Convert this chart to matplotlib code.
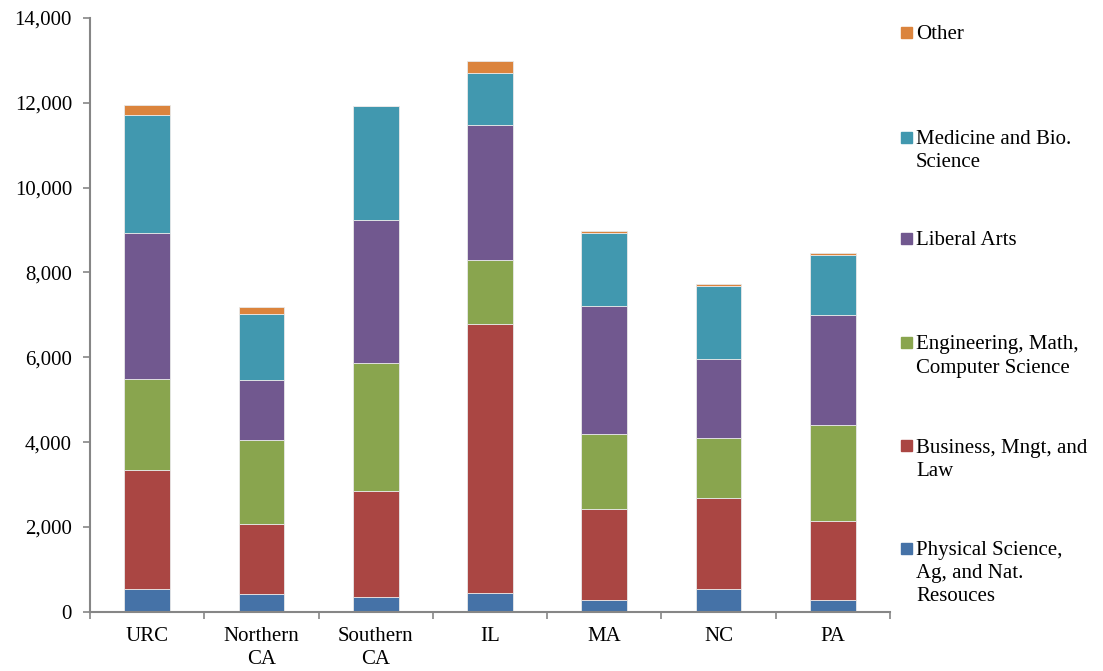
import matplotlib
matplotlib.use("Agg")
import matplotlib.pyplot as plt
import numpy as np
from matplotlib.patches import Rectangle

categories = ["URC", "Northern\nCA", "Southern\nCA", "IL", "MA", "NC", "PA"]
series_names = ["Physical Science,\nAg, and Nat.\nResouces",
                "Business, Mngt, and\nLaw",
                "Engineering, Math,\nComputer Science",
                "Liberal Arts",
                "Medicine and Bio.\nScience",
                "Other"]
physical = [530, 410, 340, 440, 280, 530, 280]
business = [2820, 1660, 2500, 6350, 2150, 2140, 1870]
engineering = [2130, 1980, 3030, 1500, 1760, 1420, 2250]
liberal = [3450, 1420, 3370, 3180, 3030, 1870, 2590]
medicine = [2780, 1560, 2680, 1240, 1700, 1730, 1410]
other = [250, 160, 10, 270, 50, 40, 60]
colors = ["#4572A7", "#AA4643", "#89A54E", "#71588F", "#4198AF", "#DB843D"]
yticks = [0, 2000, 4000, 6000, 8000, 10000, 12000, 14000]

plt.rcParams['font.family'] = ['Liberation Serif', 'DejaVu Serif']
FS = 15

W, H = 1103, 671
fig = plt.figure(figsize=(W / 100, H / 100), dpi=100)
ax = fig.add_axes([90 / W, (H - 611.7) / H, 800 / W, (611.7 - 18) / H])

x = np.arange(len(categories))
bottom = np.zeros(len(categories))
for vals, c in zip([physical, business, engineering, liberal, medicine, other], colors):
    ax.bar(x, vals, width=0.4, bottom=bottom, color=c, edgecolor="#e8e8e8", linewidth=0.6)
    bottom += np.array(vals)

ax.set_xlim(-0.5, len(categories) - 0.5)
ax.set_ylim(0, 14000)
ax.set_yticks(yticks)
ax.set_yticklabels([f"{v:,}" for v in yticks], fontsize=FS)
ax.set_xticks(x)
ax.set_xticklabels(categories, fontsize=FS, linespacing=1.3)
ax.set_xticks(np.arange(-0.5, len(categories)), minor=True)
ax.tick_params(axis='x', which='major', length=0, pad=11)
ax.tick_params(axis='x', which='minor', length=5, width=1.2, color="#868686", direction='out')
ax.tick_params(axis='y', length=5, width=1.2, color="#868686", direction='out', pad=8)
for s in ["top", "right"]:
    ax.spines[s].set_visible(False)
for s in ["left", "bottom"]:
    ax.spines[s].set_color("#868686")
    ax.spines[s].set_linewidth(1.5)

# legend, drawn entry by entry (top to bottom: reverse order of stacking)
legend_y = [32.4, 137, 238.4, 342.4, 445.6, 548]
for name, c, yy in zip(series_names[::-1], colors[::-1], legend_y):
    fig.patches.append(Rectangle((901 / W, (H - yy - 5.5) / H), 11 / W, 11 / H,
                                 transform=fig.transFigure, color=c))
    fig.text(916 / W, (H - yy + 7) / H, name, fontsize=FS, va='top', ha='left',
             linespacing=1.3)

fig.savefig("out.png", dpi=100)
